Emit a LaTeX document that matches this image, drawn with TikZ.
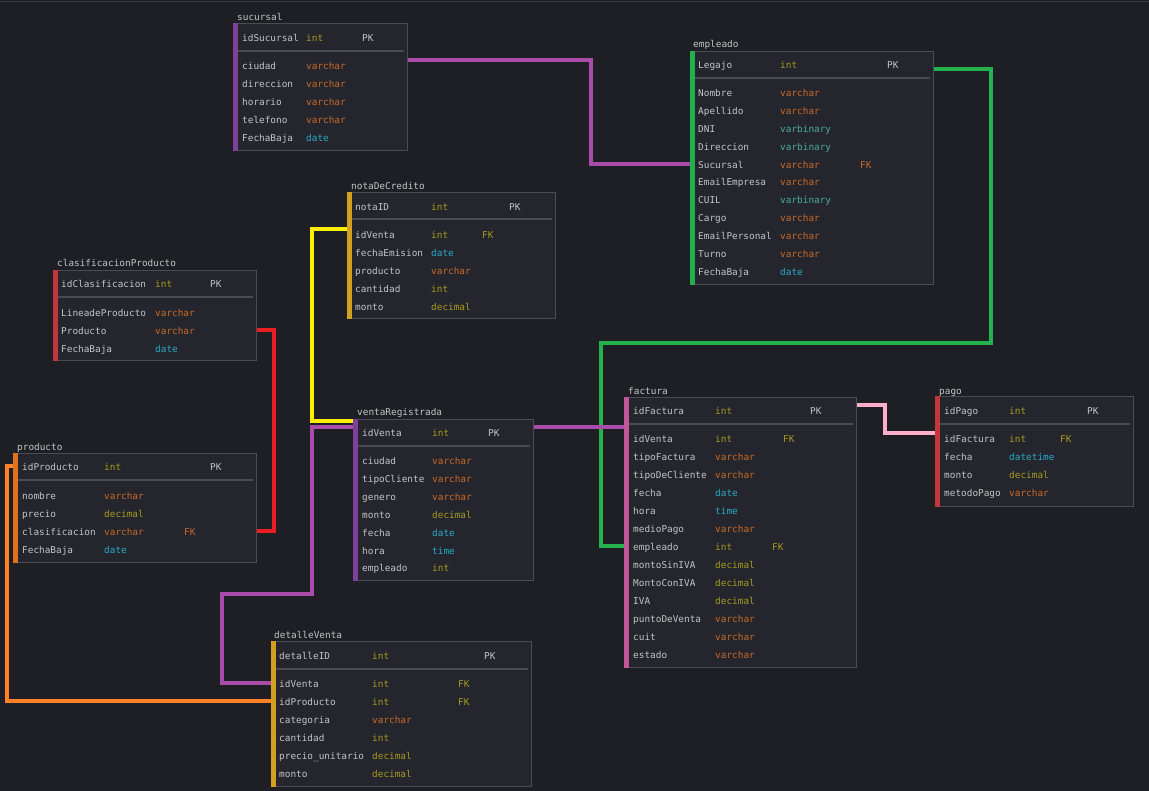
\documentclass[tikz,border=0pt]{standalone}
\usepackage{fontspec}
\usepackage{xcolor}
\newfontfamily\erfont{DejaVu Sans Mono}

\definecolor{bgcol}{RGB}{30,31,36}
\definecolor{topcol}{RGB}{58,59,66}
\definecolor{tablefill}{RGB}{37,38,45}
\definecolor{tableline}{RGB}{74,75,83}
\definecolor{namecol}{RGB}{196,196,196}
\definecolor{intcol}{RGB}{165,155,30}
\definecolor{varcharcol}{RGB}{200,105,40}
\definecolor{datecol}{RGB}{40,170,200}
\definecolor{bincol}{RGB}{75,170,160}
\definecolor{barpurple}{RGB}{125,65,155}
\definecolor{bargreen}{RGB}{35,175,75}
\definecolor{bargold}{RGB}{212,160,32}
\definecolor{barred}{RGB}{195,55,60}
\definecolor{barorange}{RGB}{220,115,30}
\definecolor{barpink}{RGB}{195,85,155}
\definecolor{linkpurple}{RGB}{170,75,170}
\definecolor{linkgreen}{RGB}{35,178,75}
\definecolor{linkyellow}{RGB}{255,238,0}
\definecolor{linkred}{RGB}{235,30,35}
\definecolor{linkorange}{RGB}{255,130,40}
\definecolor{linkpink}{RGB}{255,175,200}

\tikzset{
  mono/.style={font=\erfont\fontsize{9.4}{11}\selectfont},
  tablebox/.style={draw=tableline, fill=tablefill, line width=1.2pt, anchor=north west, inner sep=0pt},
  tabletitle/.style={mono, anchor=west, inner sep=0pt, text height=9pt, text depth=0pt, text=namecol},
  fname/.style={mono, anchor=west, inner sep=0pt, text height=9pt, text depth=0pt, text=namecol},
  ty-int/.style={fname, text=intcol},
  ty-decimal/.style={fname, text=intcol},
  ty-varchar/.style={fname, text=varcharcol},
  ty-date/.style={fname, text=datecol},
  ty-time/.style={fname, text=datecol},
  ty-datetime/.style={fname, text=datecol},
  ty-varbinary/.style={fname, text=bincol},
  sepline/.style={draw=tableline, line width=1.2pt},
  link/.style={line width=4pt},
}

\begin{document}
\begin{tikzpicture}[x=1pt, y=-1pt]
    \fill[bgcol] (0,0) rectangle (1149,791);
    \useasboundingbox (0,0) rectangle (1149,791);
    \draw[topcol, line width=1.5pt] (0,1.5) -- (1149,1.5);

    % sucursal
    \node[tabletitle] (sucursal-title) at (237,16) {sucursal};
    \node[tablebox, minimum width=174pt, minimum height=127pt] (sucursal) at (233,23) {};
    \fill[barpurple] (sucursal.north west) rectangle ([xshift=4.5pt]sucursal.south west);
    \draw[sepline] ([xshift=5pt, yshift=-28pt]sucursal.north west) -- ([xshift=-4pt, yshift=-28pt]sucursal.north east);
    \node[fname] (sucursal-pk) at (242,37) {idSucursal};
    \node[ty-int] (sucursal-pk-type) at (306,37) {int};
    \node[fname] (sucursal-pk-key) at (362,37) {PK};
    \foreach \n/\t [count=\i] in {ciudad/varchar, direccion/varchar, horario/varchar, telefono/varchar, FechaBaja/date}
    {
        \node[fname] (sucursal-\i) at (242, {65+17.9*(\i-1)}) {\n};
        \node[ty-\t] (sucursal-\i-type) at (306, {65+17.9*(\i-1)}) {\t};
    }

    % empleado
    \node[tabletitle] (empleado-title) at (693,43) {empleado};
    \node[tablebox, minimum width=243pt, minimum height=233pt] (empleado) at (690,51) {};
    \fill[bargreen] (empleado.north west) rectangle ([xshift=4.5pt]empleado.south west);
    \draw[sepline] ([xshift=5pt, yshift=-27pt]empleado.north west) -- ([xshift=-4pt, yshift=-27pt]empleado.north east);
    \node[fname] (empleado-pk) at (698,64) {Legajo};
    \node[ty-int] (empleado-pk-type) at (780,64) {int};
    \node[fname] (empleado-pk-key) at (887,64) {PK};
    \foreach \n/\t [count=\i] in {Nombre/varchar, Apellido/varchar, DNI/varbinary, Direccion/varbinary, Sucursal/varchar, EmailEmpresa/varchar, CUIL/varbinary, Cargo/varchar, EmailPersonal/varchar, Turno/varchar, FechaBaja/date}
    {
        \node[fname] (empleado-\i) at (698, {92+17.9*(\i-1)}) {\n};
        \node[ty-\t] (empleado-\i-type) at (780, {92+17.9*(\i-1)}) {\t};
    }
    \node[ty-varchar] (empleado-5-key) at (860,164) {FK};

    % notaDeCredito
    \node[tabletitle] (nota-title) at (351,185) {notaDeCredito};
    \node[tablebox, minimum width=208pt, minimum height=126pt] (nota) at (347,192) {};
    \fill[bargold] (nota.north west) rectangle ([xshift=4.5pt]nota.south west);
    \draw[sepline] ([xshift=5pt, yshift=-27pt]nota.north west) -- ([xshift=-4pt, yshift=-27pt]nota.north east);
    \node[fname] (nota-pk) at (355,206) {notaID};
    \node[ty-int] (nota-pk-type) at (431,206) {int};
    \node[fname] (nota-pk-key) at (509,206) {PK};
    \foreach \n/\t [count=\i] in {idVenta/int, fechaEmision/date, producto/varchar, cantidad/int, monto/decimal}
    {
        \node[fname] (nota-\i) at (355, {234+17.9*(\i-1)}) {\n};
        \node[ty-\t] (nota-\i-type) at (431, {234+17.9*(\i-1)}) {\t};
    }
    \node[ty-int] (nota-1-key) at (482,234) {FK};

    % clasificacionProducto
    \node[tabletitle] (clasif-title) at (57,262) {clasificacionProducto};
    \node[tablebox, minimum width=203pt, minimum height=90pt] (clasif) at (53,270) {};
    \fill[barred] (clasif.north west) rectangle ([xshift=4.5pt]clasif.south west);
    \draw[sepline] ([xshift=5pt, yshift=-27pt]clasif.north west) -- ([xshift=-4pt, yshift=-27pt]clasif.north east);
    \node[fname] (clasif-pk) at (61,283) {idClasificacion};
    \node[ty-int] (clasif-pk-type) at (155,283) {int};
    \node[fname] (clasif-pk-key) at (210,283) {PK};
    \foreach \n/\t [count=\i] in {LineadeProducto/varchar, Producto/varchar, FechaBaja/date}
    {
        \node[fname] (clasif-\i) at (61, {312+17.9*(\i-1)}) {\n};
        \node[ty-\t] (clasif-\i-type) at (155, {312+17.9*(\i-1)}) {\t};
    }

    % producto
    \node[tabletitle] (producto-title) at (17,446) {producto};
    \node[tablebox, minimum width=243pt, minimum height=109pt] (producto) at (13,453) {};
    \fill[barorange] (producto.north west) rectangle ([xshift=4.5pt]producto.south west);
    \draw[sepline] ([xshift=5pt, yshift=-27pt]producto.north west) -- ([xshift=-4pt, yshift=-27pt]producto.north east);
    \node[fname] (producto-pk) at (22,466) {idProducto};
    \node[ty-int] (producto-pk-type) at (104,466) {int};
    \node[fname] (producto-pk-key) at (210,466) {PK};
    \foreach \n/\t [count=\i] in {nombre/varchar, precio/decimal, clasificacion/varchar, FechaBaja/date}
    {
        \node[fname] (producto-\i) at (22, {495+17.9*(\i-1)}) {\n};
        \node[ty-\t] (producto-\i-type) at (104, {495+17.9*(\i-1)}) {\t};
    }
    \node[ty-varchar] (producto-3-key) at (184,531) {FK};

    % ventaRegistrada
    \node[tabletitle] (venta-title) at (357,411) {ventaRegistrada};
    \node[tablebox, minimum width=180pt, minimum height=161pt] (venta) at (353,419) {};
    \fill[barpurple] (venta.north west) rectangle ([xshift=4.5pt]venta.south west);
    \draw[sepline] ([xshift=5pt, yshift=-27pt]venta.north west) -- ([xshift=-4pt, yshift=-27pt]venta.north east);
    \node[fname] (venta-pk) at (362,432) {idVenta};
    \node[ty-int] (venta-pk-type) at (432,432) {int};
    \node[fname] (venta-pk-key) at (488,432) {PK};
    \foreach \n/\t [count=\i] in {ciudad/varchar, tipoCliente/varchar, genero/varchar, monto/decimal, fecha/date, hora/time, empleado/int}
    {
        \node[fname] (venta-\i) at (362, {460+17.9*(\i-1)}) {\n};
        \node[ty-\t] (venta-\i-type) at (432, {460+17.9*(\i-1)}) {\t};
    }

    % factura
    \node[tabletitle] (factura-title) at (628,390) {factura};
    \node[tablebox, minimum width=232pt, minimum height=270pt] (factura) at (624,397) {};
    \fill[barpink] (factura.north west) rectangle ([xshift=4.5pt]factura.south west);
    \draw[sepline] ([xshift=5pt, yshift=-27pt]factura.north west) -- ([xshift=-4pt, yshift=-27pt]factura.north east);
    \node[fname] (factura-pk) at (633,410) {idFactura};
    \node[ty-int] (factura-pk-type) at (715,410) {int};
    \node[fname] (factura-pk-key) at (810,410) {PK};
    \foreach \n/\t [count=\i] in {idVenta/int, tipoFactura/varchar, tipoDeCliente/varchar, fecha/date, hora/time, medioPago/varchar, empleado/int, montoSinIVA/decimal, MontoConIVA/decimal, IVA/decimal, puntoDeVenta/varchar, cuit/varchar, estado/varchar}
    {
        \node[fname] (factura-\i) at (633, {438+18*(\i-1)}) {\n};
        \node[ty-\t] (factura-\i-type) at (715, {438+18*(\i-1)}) {\t};
    }
    \node[ty-int] (factura-1-key) at (783,438) {FK};
    \node[ty-int] (factura-7-key) at (772,546) {FK};

    % pago
    \node[tabletitle] (pago-title) at (939,390) {pago};
    \node[tablebox, minimum width=198pt, minimum height=110pt] (pago) at (935,396) {};
    \fill[barred] (pago.north west) rectangle ([xshift=4.5pt]pago.south west);
    \draw[sepline] ([xshift=5pt, yshift=-28pt]pago.north west) -- ([xshift=-4pt, yshift=-28pt]pago.north east);
    \node[fname] (pago-pk) at (944,410) {idPago};
    \node[ty-int] (pago-pk-type) at (1009,410) {int};
    \node[fname] (pago-pk-key) at (1087,410) {PK};
    \foreach \n/\t [count=\i] in {idFactura/int, fecha/datetime, monto/decimal, metodoPago/varchar}
    {
        \node[fname] (pago-\i) at (944, {438+17.9*(\i-1)}) {\n};
        \node[ty-\t] (pago-\i-type) at (1009, {438+17.9*(\i-1)}) {\t};
    }
    \node[ty-int] (pago-1-key) at (1060,438) {FK};

    % detalleVenta
    \node[tabletitle] (detalle-title) at (274,634) {detalleVenta};
    \node[tablebox, minimum width=260pt, minimum height=145pt] (detalle) at (271,641) {};
    \fill[bargold] (detalle.north west) rectangle ([xshift=4.5pt]detalle.south west);
    \draw[sepline] ([xshift=5pt, yshift=-28pt]detalle.north west) -- ([xshift=-4pt, yshift=-28pt]detalle.north east);
    \node[fname] (detalle-pk) at (279,655) {detalleID};
    \node[ty-int] (detalle-pk-type) at (372,655) {int};
    \node[fname] (detalle-pk-key) at (484,655) {PK};
    \foreach \n/\t [count=\i] in {idVenta/int, idProducto/int, categoria/varchar, cantidad/int, precio\_unitario/decimal, monto/decimal}
    {
        \node[fname] (detalle-\i) at (279, {683+17.9*(\i-1)}) {\n};
        \node[ty-\t] (detalle-\i-type) at (372, {683+17.9*(\i-1)}) {\t};
    }
    \node[ty-int] (detalle-1-key) at (458,683) {FK};
    \node[ty-int] (detalle-2-key) at (458,701) {FK};

    % relaciones
    \draw[link, linkpurple] (sucursal.east |- sucursal-1.north) -- ++(183,0) |- (empleado.west |- empleado-5);
    \draw[link, linkgreen] (empleado.east |- empleado-pk.south) -- ++(57,0) -- ++(0,274) -- ++(-390,0) |- (factura.west |- factura-7);
    \draw[link, linkyellow] (nota.west |- nota-1.north) -- ++(-35,0) |- ([yshift=-2pt]venta.north west);
    \draw[link, linkred] (clasif.east |- clasif-2) -- ++(17,0) |- (producto.east |- producto-3);
    \draw[link, linkorange] (producto.west |- producto-pk) -- ++(-6,0) |- (detalle.west |- detalle-2);
    \draw[link, linkpurple] (venta.west |- venta-pk.north) -- ++(-41,0) -- ++(0,167) -- ++(-90,0) |- (detalle.west |- detalle-1);
    \draw[link, linkpurple] (venta.east |- venta-pk.north) -- (factura.west |- venta-pk.north);
    \draw[link, linkpink] (factura.east |- factura-pk.north) -- ++(28,0) |- (pago.west |- pago-1.north);
\end{tikzpicture}
\end{document}
